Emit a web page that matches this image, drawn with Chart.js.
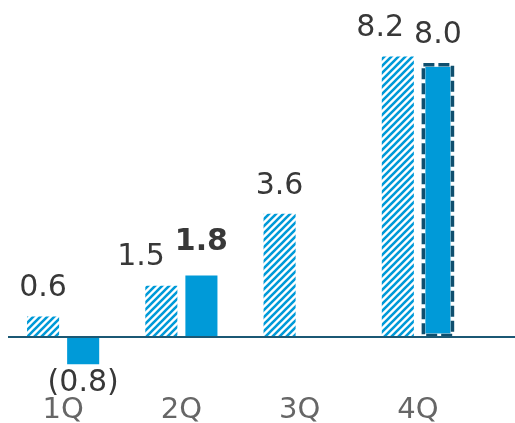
<!DOCTYPE html>
<html>
<head>
<meta charset="utf-8">
<script src="https://cdn.jsdelivr.net/npm/chart.js@4/dist/chart.umd.min.js"></script>
<style>
  html, body { margin: 0; padding: 0; background: #ffffff; }
  #wrap { width: 515px; height: 423px; }
</style>
</head>
<body>
<div id="wrap"><canvas id="chart" width="515" height="423"></canvas></div>
<script>
// Quarterly values: previous year (hatched) and current year (solid)
const quarters = ['1Q', '2Q', '3Q', '4Q'];
const prevYear = [0.6, 1.5, 3.6, 8.2];
const currYear = [-0.8, 1.8, null, 8.0];
// Quarters whose current-year bar is a forecast (dashed outline)
const forecast = [false, false, false, true];
// Labels emphasised in bold
const boldCurr = [false, true, false, false];

const BLUE = '#009ad8';
const NAVY = '#0f4f6e';
const AXIS = '#1b5874';
const FONT = '"DejaVu Sans", Verdana, sans-serif';
const LABEL_SIZE = 30;

function hatchPattern() {
  const s = 7;
  const c = document.createElement('canvas');
  c.width = s; c.height = s;
  const g = c.getContext('2d');
  g.fillStyle = '#ffffff';
  g.fillRect(0, 0, s, s);
  g.strokeStyle = BLUE;
  g.lineWidth = 2.6;
  g.beginPath();
  g.moveTo(-s, 2 * s); g.lineTo(2 * s, -s);
  g.moveTo(-2 * s, 2 * s); g.lineTo(s, -s);
  g.moveTo(0, 2 * s); g.lineTo(3 * s, -s);
  g.stroke();
  return g.createPattern(c, 'repeat');
}

function fmt(v) {
  return v < 0 ? '(' + Math.abs(v).toFixed(1) + ')' : v.toFixed(1);
}

// Baseline at zero, category names, value labels and dashed outline for forecast bars
const overlay = {
  id: 'overlay',
  afterDatasetsDraw(chart) {
    const ctx = chart.ctx;
    const xs = chart.scales.x;
    const y0 = chart.scales.y.getPixelForValue(0);
    const m0 = chart.getDatasetMeta(0);
    const m1 = chart.getDatasetMeta(1);

    // dashed outline on forecast bars
    ctx.save();
    m1.data.forEach((bar, i) => {
      if (!forecast[i] || currYear[i] == null) return;
      const p = bar.getProps(['x', 'y', 'base', 'width'], true);
      const l = p.x - p.width / 2 + 1.5, r = p.x + p.width / 2 - 1.5;
      const t = Math.min(p.y, p.base) + 1.5, b = Math.max(p.y, p.base) - 1.5;
      ctx.strokeStyle = '#ffffff';
      ctx.lineWidth = 4;
      ctx.setLineDash([]);
      ctx.strokeRect(l, t, r - l, b - t);
      ctx.strokeStyle = NAVY;
      ctx.lineWidth = 3.5;
      ctx.setLineDash([11, 4]);
      ctx.strokeRect(l, t, r - l, b - t);
    });
    ctx.restore();

    // zero line
    ctx.save();
    ctx.strokeStyle = AXIS;
    ctx.lineWidth = 2;
    ctx.beginPath();
    ctx.moveTo(8, y0);
    ctx.lineTo(chart.width, y0);
    ctx.stroke();
    ctx.restore();

    // category names under the bars
    ctx.save();
    ctx.fillStyle = '#666666';
    ctx.font = '29px ' + FONT;
    ctx.textAlign = 'center';
    ctx.textBaseline = 'alphabetic';
    quarters.forEach((q, i) => {
      ctx.fillText(q, xs.getPixelForValue(i), chart.chartArea.bottom + 28);
    });
    ctx.restore();

    // value labels
    ctx.save();
    ctx.fillStyle = '#383838';
    ctx.textAlign = 'center';
    ctx.textBaseline = 'middle';
    quarters.forEach((q, i) => {
      const items = [];
      [[m0, prevYear, false], [m1, currYear, boldCurr[i]]].forEach(([meta, vals, bold]) => {
        const v = vals[i];
        if (v == null) return;
        const bar = meta.data[i];
        const p = bar.getProps(['x', 'y'], true);
        const font = (bold ? 'bold ' : '') + LABEL_SIZE + 'px ' + FONT;
        ctx.font = font;
        const w = ctx.measureText(fmt(v)).width;
        const y = v >= 0 ? p.y - (bold ? 33 : 28) : p.y + 19;
        items.push({ text: fmt(v), x: p.x, y, w, font, pos: v >= 0 });
      });
      // keep side-by-side labels from overlapping
      if (items.length === 2 && items[0].pos === items[1].pos) {
        const gap = 10;
        const overlap = (items[0].x + items[0].w / 2) - (items[1].x - items[1].w / 2) + gap;
        if (overlap > 0) items[0].x -= overlap;
      }
      items.forEach(it => {
        ctx.font = it.font;
        ctx.fillText(it.text, it.x, it.y);
      });
    });
    ctx.restore();
  }
};

const hatch = hatchPattern();

new Chart(document.getElementById('chart'), {
  type: 'bar',
  data: {
    labels: quarters,
    datasets: [
      { label: 'Previous year', data: prevYear, backgroundColor: hatch, borderWidth: 0 },
      { label: 'Current year', data: currYear, backgroundColor: BLUE, borderWidth: 0 }
    ]
  },
  options: {
    responsive: false,
    animation: false,
    events: [],
    layout: { padding: { left: 4, right: 38, top: 12, bottom: 33 } },
    categoryPercentage: 0.678,
    barPercentage: 0.8,
    plugins: { legend: { display: false }, tooltip: { enabled: false } },
    scales: {
      x: { display: false },
      y: { display: false, min: -1.55, max: 9.5 }
    }
  },
  plugins: [overlay]
});
</script>
</body>
</html>
